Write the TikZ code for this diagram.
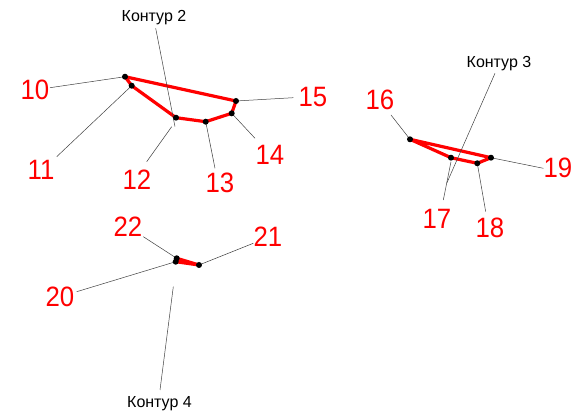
\documentclass[tikz,border=0pt]{standalone}
\usepackage{fontspec}
\setmainfont{Liberation Sans}
\newfontfamily\numfont[FakeStretch=0.92]{Liberation Sans}
\begin{document}
\begin{tikzpicture}[x=1pt,y=-1pt,
  pt/.style={circle,fill=black,inner sep=0pt,minimum size=6pt},
  contour/.style={draw=red,line width=3.2pt,line join=round},
  leader/.style={draw=black!75,line width=0.5pt},
  num/.style={text=red,font=\numfont\fontsize{28}{28}\selectfont,inner sep=0pt},
  klabel/.style={text=black,font=\fontsize{16}{16}\selectfont,inner sep=0pt}]
\useasboundingbox (0,0) rectangle (582,419);
% points
\coordinate (p10) at (125,76.7);
\coordinate (p11) at (131.7,85.7);
\coordinate (p12) at (176,117.7);
\coordinate (p13) at (205.7,121.7);
\coordinate (p14) at (231.7,113.3);
\coordinate (p15) at (236,101);
\coordinate (p16) at (410,139.3);
\coordinate (p17) at (451,157.7);
\coordinate (p18) at (477.3,163.3);
\coordinate (p19) at (491,157.7);
\coordinate (p20) at (175.7,261.7);
\coordinate (p21) at (199,265);
\coordinate (p22) at (176.7,258.3);
% contours
\draw[contour] (p10) -- (p15) -- (p14) -- (p13) -- (p12) -- (p11) -- cycle;
\draw[contour] (p16) -- (p19) -- (p18) -- (p17) -- cycle;
\draw[contour] (p20) -- (p21) -- (p22);
% leader ends
\coordinate (e10) at (50,87.7);
\coordinate (e11) at (56.7,156.7);
\coordinate (e12) at (146.7,161.7);
\coordinate (e12b) at (171.7,126.7);
\coordinate (e13) at (215,168.3);
\coordinate (e14) at (255,138.3);
\coordinate (e15) at (293.3,97.7);
\coordinate (e16) at (391,115);
\coordinate (e17) at (443.3,200);
\coordinate (e17b) at (451,161.7);
\coordinate (e18) at (485.7,211.7);
\coordinate (e19) at (543.3,168.3);
\coordinate (e20) at (76.7,291.7);
\coordinate (e21) at (253.3,243.3);
\coordinate (e22) at (143.3,236.7);
\coordinate (k2a) at (155.7,28.3);
\coordinate (k2b) at (175,126.7);
\coordinate (k3a) at (495,73.3);
\coordinate (k3b) at (446.7,183.3);
\coordinate (k4a) at (160,390);
\coordinate (k4b) at (173.3,286.7);
% leaders
\draw[leader] (p10) -- (e10);
\draw[leader] (p11) -- (e11);
\draw[leader] (e12b) -- (e12);
\draw[leader] (p13) -- (e13);
\draw[leader] (p14) -- (e14);
\draw[leader] (p15) -- (e15);
\draw[leader] (p16) -- (e16);
\draw[leader] (e17b) -- (e17);
\draw[leader] (p18) -- (e18);
\draw[leader] (p19) -- (e19);
\draw[leader] (p20) -- (e20);
\draw[leader] (p21) -- (e21);
\draw[leader] (p22) -- (e22);
\draw[leader] (k2a) -- (k2b);
\draw[leader] (k3a) -- (k3b);
\draw[leader] (k4a) -- (k4b);
% dots
\foreach \p in {p10,p11,p12,p13,p14,p15,p16,p17,p18,p19,p20,p21,p22}
  \node[pt] at (\p) {};
% labels
\node[num] (l10) at (35,90) {10};
\node[num] (l11) at (41,170) {11};
\node[num] (l12) at (137,180) {12};
\node[num] (l13) at (220,183) {13};
\node[num] (l14) at (270,155) {14};
\node[num] (l15) at (313,97) {15};
\node[num] (l16) at (380,100) {16};
\node[num] (l17) at (437,219) {17};
\node[num] (l18) at (490,228) {18};
\node[num] (l19) at (558,168) {19};
\node[num] (l20) at (60,297) {20};
\node[num] (l21) at (268,237) {21};
\node[num] (l22) at (128,227) {22};
\node[klabel] (k2) at (154,18) {Контур 2};
\node[klabel] (k3) at (499,64) {Контур 3};
\node[klabel] (k4) at (159.5,404) {Контур 4};
\end{tikzpicture}
\end{document}
